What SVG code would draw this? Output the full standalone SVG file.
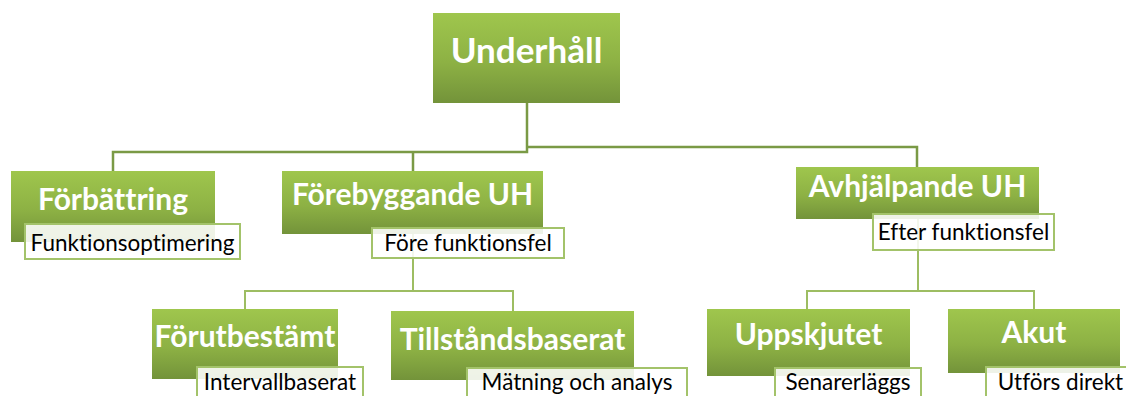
<svg xmlns="http://www.w3.org/2000/svg" width="1126" height="396" viewBox="0 0 1126 396">
<defs>
<linearGradient id="g" x1="0" y1="0" x2="0" y2="1">
<stop offset="0" stop-color="#9FC64D"/>
<stop offset="0.55" stop-color="#8DB144"/>
<stop offset="1" stop-color="#73933A"/>
</linearGradient>
<style>
.box{fill:url(#g);}
.tb{fill:#FFFFFF;fill-opacity:0.88;stroke:#A3C36A;stroke-width:2;}
.h{font-family:Lato,"Liberation Sans",sans-serif;font-weight:bold;fill:#FFFFFF;text-anchor:middle;font-variant-ligatures:none;}
.s{font-family:Lato,"Liberation Sans",sans-serif;font-size:22.5px;fill:#000000;text-anchor:middle;font-variant-ligatures:none;}
.c1{fill:none;stroke:#7A9A45;stroke-width:2.5;}
.c2{fill:none;stroke:#9DBD62;stroke-width:2;}
</style>
</defs>
<rect width="1126" height="396" fill="#FFFFFF"/>
<g id="connectors">
<path class="c1" d="M527,103 V152 H113 V171 M413,152 V171"/>
<path class="c1" d="M527,147 H917 V167"/>
<path class="c2" d="M413,234 V291 H245 V309 M413,291 H513 V311"/>
<path class="c2" d="M918,219 V291 H807 V309 M918,291 H1034 V309"/>
</g>
<g id="underhall">
<rect class="box" x="433" y="13" width="187" height="90"/>
<text class="h" x="526.5" y="63" font-size="35">Underhåll</text>
</g>
<g id="forbattring">
<rect class="box" x="11" y="171" width="204" height="71"/>
<text class="h" x="113" y="210" font-size="30">Förbättring</text>
<rect class="tb" x="25" y="224" width="215" height="35"/>
<text class="s" x="132.5" y="251">Funktionsoptimering</text>
</g>
<g id="forebyggande">
<rect class="box" x="282" y="171" width="261" height="63"/>
<text class="h" x="412.5" y="205" font-size="30">Förebyggande UH</text>
<rect class="tb" x="372" y="228" width="192" height="30"/>
<text class="s" x="468" y="251">Före funktionsfel</text>
</g>
<g id="avhjalpande">
<rect class="box" x="796" y="167" width="243" height="52"/>
<text class="h" x="917.5" y="197" font-size="30">Avhjälpande UH</text>
<rect class="tb" x="873" y="214" width="181" height="36"/>
<text class="s" x="963.5" y="240">Efter funktionsfel</text>
</g>
<g id="forutbestamt">
<rect class="box" x="152" y="309" width="186" height="70"/>
<text class="h" x="245" y="347" font-size="30">Förutbestämt</text>
<rect class="tb" x="197" y="367" width="166" height="40"/>
<text class="s" x="280" y="390">Intervallbaserat</text>
</g>
<g id="tillstandsbaserat">
<rect class="box" x="391" y="311" width="243" height="69"/>
<text class="h" x="512.5" y="350" font-size="30">Tillståndsbaserat</text>
<rect class="tb" x="467" y="368" width="220" height="40"/>
<text class="s" x="577" y="390">Mätning och analys</text>
</g>
<g id="uppskjutet">
<rect class="box" x="707" y="309" width="203" height="67"/>
<text class="h" x="808.5" y="345" font-size="30">Uppskjutet</text>
<rect class="tb" x="775" y="368" width="146" height="40"/>
<text class="s" x="848" y="390">Senarerläggs</text>
</g>
<g id="akut">
<rect class="box" x="948" y="309" width="172" height="64"/>
<text class="h" x="1034" y="343" font-size="30">Akut</text>
<rect class="tb" x="986" y="367" width="150" height="40"/>
<text class="s" x="1060.5" y="390">Utförs direkt</text>
</g>
</svg>
